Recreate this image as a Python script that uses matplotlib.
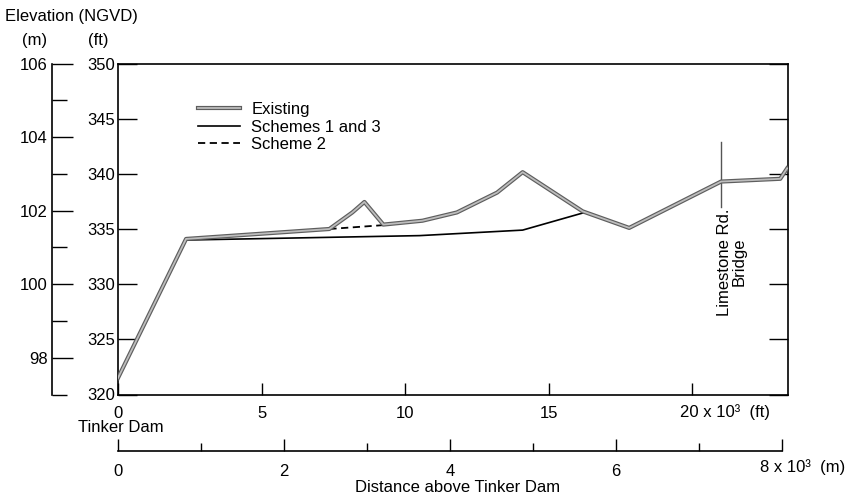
import matplotlib
matplotlib.use("Agg")
import matplotlib.pyplot as plt
import matplotlib.patheffects as pe

plt.rcParams['font.family'] = ['Liberation Sans', 'DejaVu Sans']
plt.rcParams['font.size'] = 12

# distance above Tinker Dam (x 10^3 ft) and elevation (ft NGVD)
dist_existing = [0, 2.37, 7.36, 8.16, 8.58, 9.24, 10.6, 11.8, 13.2, 14.09,
                 16.18, 17.8, 21.0, 23.06, 23.3]
elev_existing = [321.5, 334.1, 335.0, 336.5, 337.45, 335.4, 335.75, 336.5,
                 338.3, 340.15, 336.6, 335.1, 339.3, 339.55, 340.5]

dist_scheme13 = [0, 2.37, 10.5, 14.09, 16.25, 17.8, 21.0, 23.06, 23.3]
elev_scheme13 = [321.5, 334.0, 334.4, 334.9, 336.5, 335.1, 339.3, 339.55, 340.5]

dist_scheme2 = [7.36, 9.24]
elev_scheme2 = [335.0, 335.35]

ft_ticks = [0, 5, 10, 15, 20]
ft_labels = ['0', '5', '10', '15', '']
m_ticks = [0, 2, 4, 6, 8]
m_labels = ['0', '2', '4', '6', '']
elev_m_ticks = [98, 100, 102, 104, 106]

bridge_x = 21.0
bridge_span = [337.0, 342.85]

W, H = 851, 496


def fx(px):
    return px / W


def fy(py):
    return 1 - py / H


fig = plt.figure(figsize=(W / 100, H / 100), dpi=100)

# main axes (ft)
ax = fig.add_axes([fx(118), fy(394.5), fx(788) - fx(118), fy(63.5) - fy(394.5)])
ax.set_xlim(0, 23.33)
ax.set_ylim(320, 350)

l13, = ax.plot(dist_scheme13, elev_scheme13, color='black', lw=1.2,
               label='Schemes 1 and 3', zorder=2)
l2, = ax.plot(dist_scheme2, elev_scheme2, color='black', lw=1.3,
              dashes=(4, 2.5), label='Scheme 2', zorder=2)
lex, = ax.plot(dist_existing, elev_existing, color='#bdbdbd', lw=1.3,
               label='Existing', zorder=3,
               path_effects=[pe.Stroke(linewidth=3.0, foreground='#5e5e5e'), pe.Normal()])

ax.set_xticks(ft_ticks)
ax.set_xticklabels(ft_labels)
ax.set_yticks(range(320, 351, 5))
ax.tick_params(axis='x', direction='in', length=9, width=1, pad=8, top=False)
ax.tick_params(axis='y', direction='in', length=14, width=1, pad=2,
               left=True, right=True)
for s in ax.spines.values():
    s.set_linewidth(1.2)

# bridge marker
ax.plot([bridge_x, bridge_x], bridge_span, color='#555555', lw=1.0, zorder=1)
ax.text(bridge_x + 0.38, 332.0, 'Limestone Rd.\nBridge', rotation=90,
        ha='center', va='center', multialignment='center', linespacing=1.0)

ax.legend(handles=[lex, l13, l2], loc='upper left', frameon=False,
          bbox_to_anchor=(fx(198), fy(102)), bbox_transform=fig.transFigure,
          borderpad=0, borderaxespad=0, handlelength=2.5, handletextpad=0.7,
          labelspacing=0.15)

# left meter axis
axm = fig.add_axes([fx(52), fy(394.5), 0.001, fy(63.5) - fy(394.5)])
axm.set_ylim(97, 106)
axm.set_xticks([])
axm.set_yticks(elev_m_ticks)
axm.set_yticks([97, 99, 101, 103, 105], minor=True)
for name in ['top', 'right', 'bottom']:
    axm.spines[name].set_visible(False)
axm.spines['left'].set_linewidth(1.2)
axm.tick_params(axis='y', which='major', direction='in', length=15, width=1, pad=3)
axm.tick_params(axis='y', which='minor', direction='in', length=11, width=1)
axm.patch.set_visible(False)

# bottom meter axis
axb = fig.add_axes([fx(118), fy(451), fx(782) - fx(118), 0.001])
axb.set_xlim(0, 8)
axb.set_yticks([])
axb.set_xticks(m_ticks)
axb.set_xticklabels(m_labels)
axb.set_xticks([1, 3, 5, 7], minor=True)
for name in ['top', 'right', 'left']:
    axb.spines[name].set_visible(False)
axb.spines['bottom'].set_linewidth(1.2)
axb.tick_params(axis='x', which='major', direction='in', length=9, width=1, pad=9)
axb.tick_params(axis='x', which='minor', direction='in', length=6, width=1)
axb.patch.set_visible(False)

# labels
fig.text(fx(5), fy(16), 'Elevation (NGVD)', ha='left', va='center')
fig.text(fx(35), fy(40), '(m)', ha='center', va='center')
fig.text(fx(98), fy(40), '(ft)', ha='center', va='center')
fig.text(fx(121), fy(427), 'Tinker Dam', ha='center', va='center')
fig.text(fx(680), fy(412), '20 x 10\u00b3  (ft)', ha='left', va='center')
fig.text(fx(760), fy(467), '8 x 10\u00b3  (m)', ha='left', va='center')
fig.text(fx(458), fy(487), 'Distance above Tinker Dam', ha='center', va='center')

fig.savefig('out.png', dpi=100)
